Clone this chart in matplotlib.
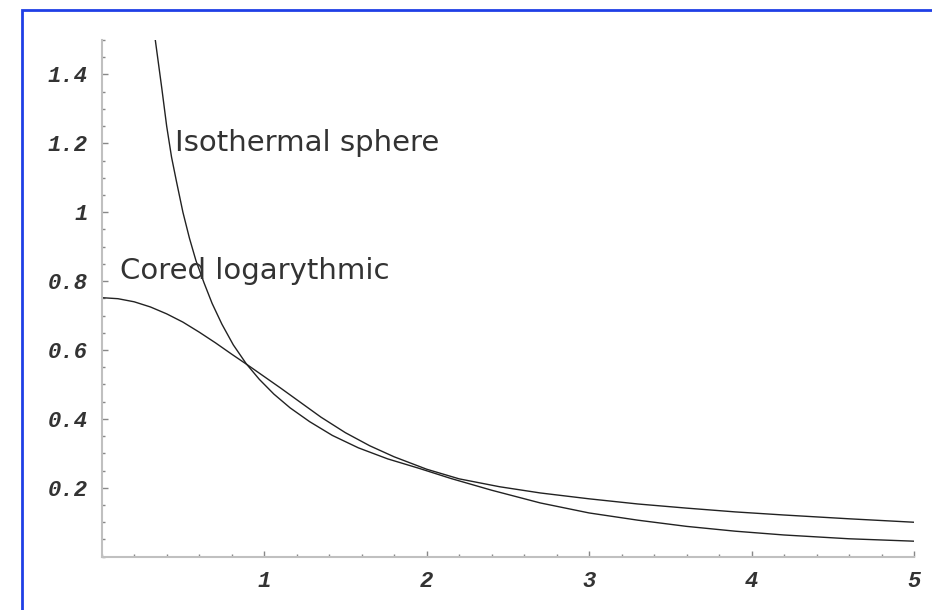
import matplotlib
matplotlib.use("Agg")
import matplotlib.pyplot as plt
from matplotlib.lines import Line2D
from matplotlib.ticker import MultipleLocator, FixedLocator

# isothermal sphere profile
iso_x = [0.33, 0.35, 0.37, 0.40, 0.43, 0.46, 0.50, 0.54, 0.58, 0.63, 0.68, 0.74,
         0.81, 0.89, 0.97, 1.06, 1.16, 1.28, 1.42, 1.58, 1.76, 1.95, 2.15, 2.4,
         2.7, 3.0, 3.3, 3.6, 3.9, 4.2, 4.6, 5.0]
iso_y = [1.50, 1.43, 1.36, 1.25, 1.16, 1.09, 1.00, 0.925, 0.86, 0.795, 0.735, 0.675,
         0.615, 0.56, 0.515, 0.472, 0.432, 0.392, 0.352, 0.316, 0.284, 0.257, 0.227, 0.193,
         0.156, 0.127, 0.106, 0.088, 0.074, 0.063, 0.052, 0.045]

# cored logarithmic profile
cored_x = [0.0, 0.1, 0.2, 0.3, 0.4, 0.5, 0.6, 0.7, 0.8, 0.9, 1.0, 1.1, 1.2, 1.35,
           1.5, 1.65, 1.8, 2.0, 2.2, 2.45, 2.7, 3.0, 3.3, 3.6, 3.9, 4.2, 4.6, 5.0]
cored_y = [0.752, 0.749, 0.740, 0.725, 0.705, 0.681, 0.652, 0.621, 0.588, 0.556, 0.523,
           0.490, 0.456, 0.405, 0.360, 0.322, 0.290, 0.254, 0.226, 0.203, 0.185, 0.168,
           0.153, 0.141, 0.130, 0.121, 0.110, 0.100]

y_ticks = [0.2, 0.4, 0.6, 0.8, 1.0, 1.2, 1.4]
y_labels = ["0.2", "0.4", "0.6", "0.8", "1", "1.2", "1.4"]
x_ticks = [1, 2, 3, 4, 5]
x_labels = ["1", "2", "3", "4", "5"]

fig = plt.figure(figsize=(9.32, 6.10), dpi=100)
ax = fig.add_axes([0.1091, 0.0874, 0.8716, 0.847])

ax.plot(iso_x, iso_y, color="#222222", lw=1.0)
ax.plot(cored_x, cored_y, color="#222222", lw=1.0)

ax.set_xlim(0, 5)
ax.set_ylim(0, 1.5)

for s in ["top", "right"]:
    ax.spines[s].set_visible(False)
for s in ["left", "bottom"]:
    ax.spines[s].set_color("#c0c0c0")
    ax.spines[s].set_linewidth(1.5)

ax.xaxis.set_major_locator(FixedLocator(x_ticks))
ax.set_xticklabels(x_labels)
ax.yaxis.set_major_locator(FixedLocator(y_ticks))
ax.set_yticklabels(y_labels)
ax.xaxis.set_minor_locator(MultipleLocator(0.2))
ax.yaxis.set_minor_locator(MultipleLocator(0.05))

ax.tick_params(which="major", direction="in", length=4, width=1, color="#888888", pad=10)
ax.tick_params(which="minor", direction="in", length=2.5, width=1, color="#888888")
for lab in ax.get_xticklabels() + ax.get_yticklabels():
    lab.set_family("Liberation Mono")
    lab.set_weight("bold")
    lab.set_style("italic")
    lab.set_fontsize(16)
    lab.set_color("#333333")

ax.text(0.451, 1.179, "Isothermal sphere", fontsize=21, color="#333333",
        family="DejaVu Sans", va="baseline", ha="left")
ax.text(0.113, 0.806, "Cored logarythmic", fontsize=21, color="#333333",
        family="DejaVu Sans", va="baseline", ha="left")

# blue frame (top and left edges visible)
bx = 21.5 / 932
by = 1 - 9.5 / 610
fig.add_artist(Line2D([bx, bx, 1.0], [0.0, by, by], transform=fig.transFigure,
                      color="#1f3fe6", lw=2.0, solid_joinstyle="miter"))

fig.savefig("out.png", dpi=100)
